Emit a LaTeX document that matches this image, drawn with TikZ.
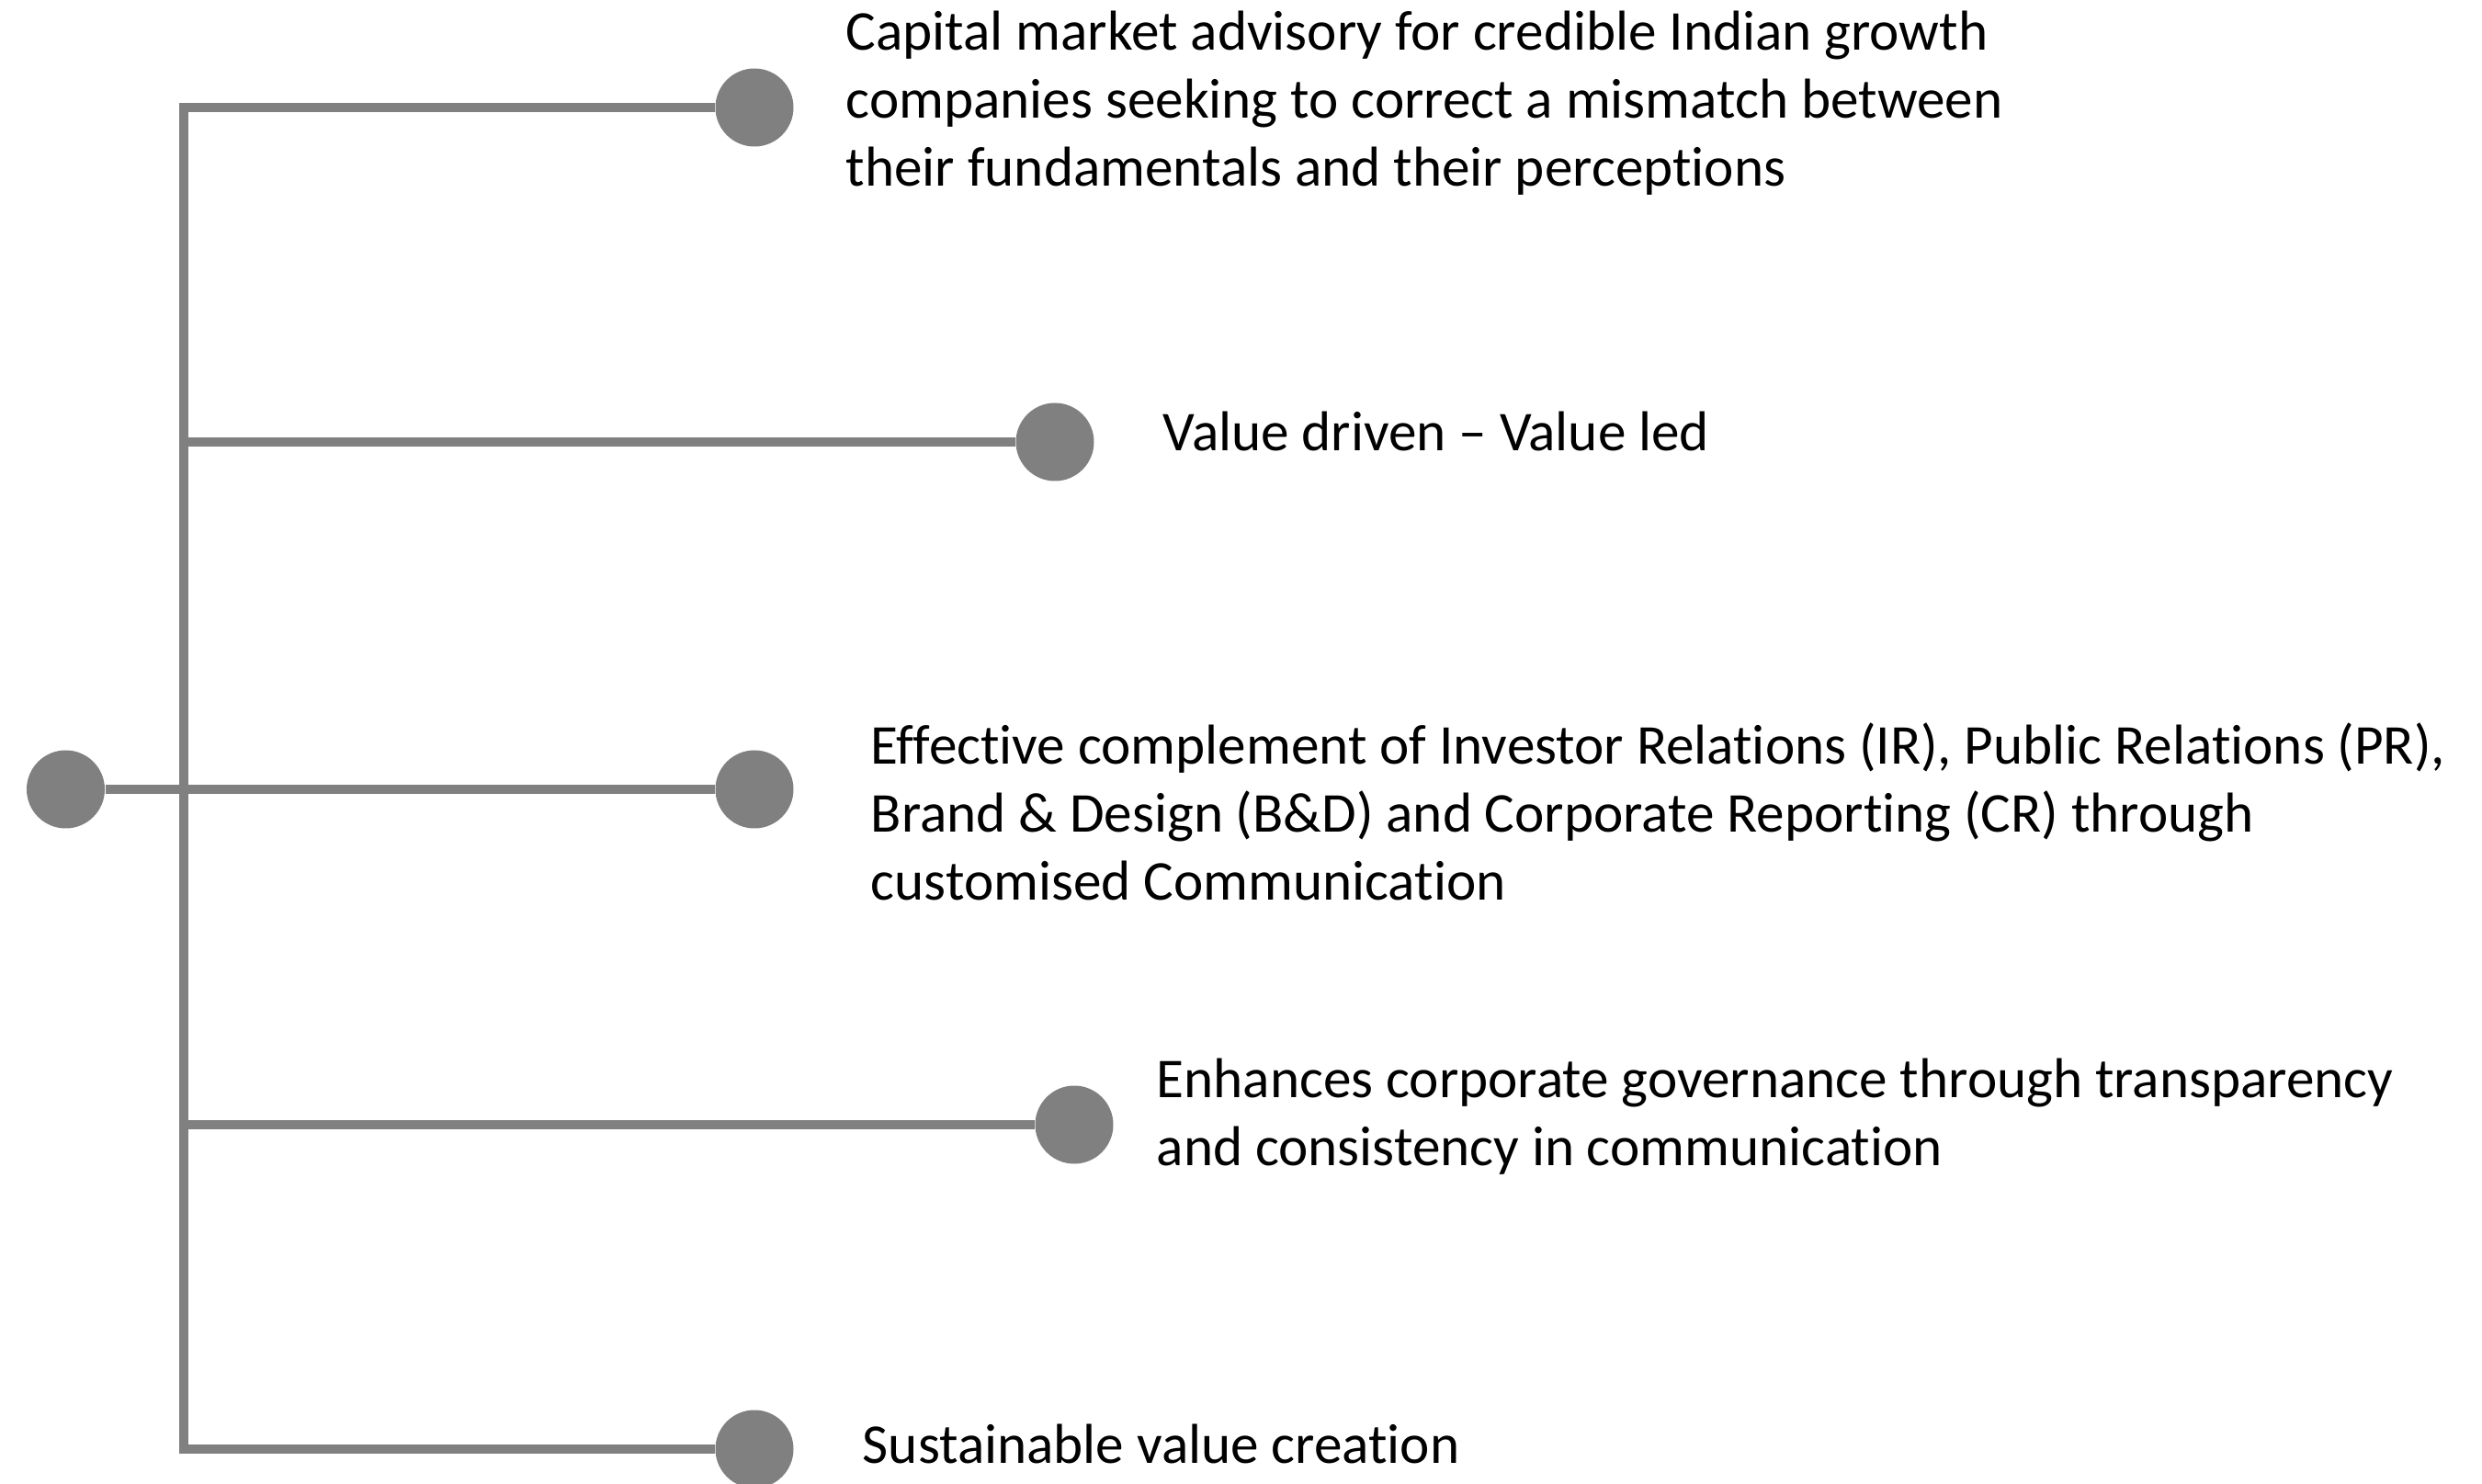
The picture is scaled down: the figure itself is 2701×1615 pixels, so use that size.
\documentclass[tikz,border=0pt]{standalone}
\usepackage{fontspec}
\setmainfont{Carlito}[Ligatures={NoCommon}]
\definecolor{linegray}{HTML}{808080}
\begin{document}
\begin{tikzpicture}[x=0.25pt,y=-0.25pt,
  conn/.style={draw=linegray,line width=2.5pt,line join=miter},
  dot/.style={circle,fill=linegray,inner sep=0pt,minimum size=21.25pt},
  txt/.style={anchor=base west,inner sep=0pt,align=left,text=black,
    font=\fontsize{15.3pt}{18.5pt}\selectfont}]
\useasboundingbox (0,0) rectangle (2701,1615);
\node[dot] (r) at (71.5,859) {};
\node[dot] (d1) at (821,117) {};
\node[dot] (d2) at (1148,481) {};
\node[dot] (d3) at (821,859) {};
\node[dot] (d4) at (1169,1224) {};
\node[dot] (d5) at (821,1577) {};
\coordinate (top) at (200,117);
\coordinate (bot) at (200,1577);
\draw[conn] (d1.west) -- (top) -- (bot) -- (d5.west);
\draw[conn] (200,481) -- (d2.west);
\draw[conn] (r.east) -- (d3.west);
\draw[conn] (200,1224) -- (d4.west);
\node[txt] (t1) at (920,203) {Capital market advisory for credible Indian growth\\companies seeking to correct a mismatch between\\their fundamentals and their perceptions};
\node[txt] (t2) at (1265,491) {Value driven -- Value led};
\node[txt] (t3) at (947,979) {Effective complement of Investor Relations (IR), Public Relations (PR),\\Brand \& Design (B\&D) and Corporate Reporting (CR) through\\customised Communication};
\node[txt] (t4) at (1258,1268) {Enhances corporate governance through transparency\\and consistency in communication};
\node[txt] (t5) at (938,1592) {Sustainable value creation};
\end{tikzpicture}
\end{document}
